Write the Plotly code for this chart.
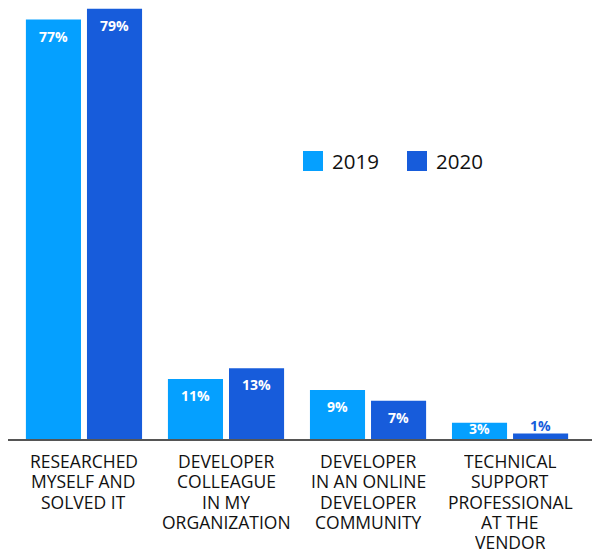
import plotly.graph_objects as go

# Survey answers: where developers went for help first
categories = [
    "RESEARCHED<br>MYSELF AND<br>SOLVED IT",
    "DEVELOPER<br>COLLEAGUE<br>IN MY<br>ORGANIZATION",
    "DEVELOPER<br>IN AN ONLINE<br>DEVELOPER<br>COMMUNITY",
    "TECHNICAL<br>SUPPORT<br>PROFESSIONAL<br>AT THE<br>VENDOR",
]
years = ["2019", "2020"]
values_2019 = [77, 11, 9, 3]
values_2020 = [79, 13, 7, 1]

colors = {"2019": "#05A0FF", "2020": "#175CDB"}
FONT = "Open Sans"

W, H = 592, 554
M_L, M_R, M_T, M_B = 8, 0, 0, 115
plot_w = W - M_L - M_R
plot_h = H - M_T - M_B
y_max = 80.6
px_per_unit = plot_h / y_max

fig = go.Figure()
series = {"2019": values_2019, "2020": values_2020}
for yr in years:
    fig.add_trace(go.Bar(
        x=categories, y=series[yr], name=yr,
        marker=dict(color=colors[yr], line=dict(width=0)),
        showlegend=False, hoverinfo="skip",
    ))

# Value labels: inside near the top of each bar, at the bottom for short bars,
# and above the bar when it is too thin to hold text
bar_shift = 30.5
for i, yr in enumerate(years):
    xs = -bar_shift if i == 0 else bar_shift
    for cat, v in zip(categories, series[yr]):
        h = v * px_per_unit
        if h >= 30:
            ann = dict(y=v, yanchor="top", yshift=-5, color="white")
        elif h >= 12:
            ann = dict(y=0, yanchor="bottom", yshift=-1, color="white")
        else:
            ann = dict(y=v, yanchor="bottom", yshift=-3, color=colors[yr])
        fig.add_annotation(
            x=cat, y=ann["y"], xref="x", yref="y", xshift=xs, yshift=ann["yshift"],
            text=f"{v}%", showarrow=False, yanchor=ann["yanchor"], xanchor="center",
            font=dict(family=FONT, size=14, color=ann["color"], weight="bold"),
        )

# Category labels set line by line for a tighter line height
LINE_H = 20.3
for cat in categories:
    for j, line in enumerate(cat.split("<br>")):
        fig.add_annotation(
            x=cat, y=0, xref="x", yref="y", yshift=-11 - j * LINE_H,
            text=line, showarrow=False, xanchor="center", yanchor="top",
            height=20, borderpad=0, valign="middle",
            font=dict(family=FONT, size=17.5, color="#111111"),
        )

# Legend drawn as squares and labels in paper space
def px_x(px):
    return (px - M_L) / plot_w

def px_y(py):
    return (H - M_B - py) / plot_h

legend_items = [("2019", 303), ("2020", 407)]
for yr, x0 in legend_items:
    fig.add_shape(type="rect", xref="paper", yref="paper",
                  x0=px_x(x0), x1=px_x(x0 + 20), y0=px_y(171), y1=px_y(151),
                  fillcolor=colors[yr], line=dict(width=0))
    fig.add_annotation(xref="paper", yref="paper", x=px_x(x0 + 27), y=px_y(161),
                       text=yr, showarrow=False, xanchor="left", yanchor="middle",
                       font=dict(family=FONT, size=20.5, color="#111111"))

fig.update_layout(
    width=W, height=H,
    margin=dict(l=M_L, r=M_R, t=M_T, b=M_B, pad=0, autoexpand=False),
    paper_bgcolor="white", plot_bgcolor="white",
    barmode="group", bargap=0.14, bargroupgap=0.098,
    font=dict(family=FONT, color="#111111"),
    xaxis=dict(
        range=[-0.535, 3.577], showgrid=False, zeroline=False,
        showline=True, linecolor="#555555", linewidth=2,
        ticks="", showticklabels=False, automargin=False,
        fixedrange=True,
    ),
    yaxis=dict(range=[0, y_max], visible=False, fixedrange=True, automargin=False),
)

fig.write_html("out.html")
